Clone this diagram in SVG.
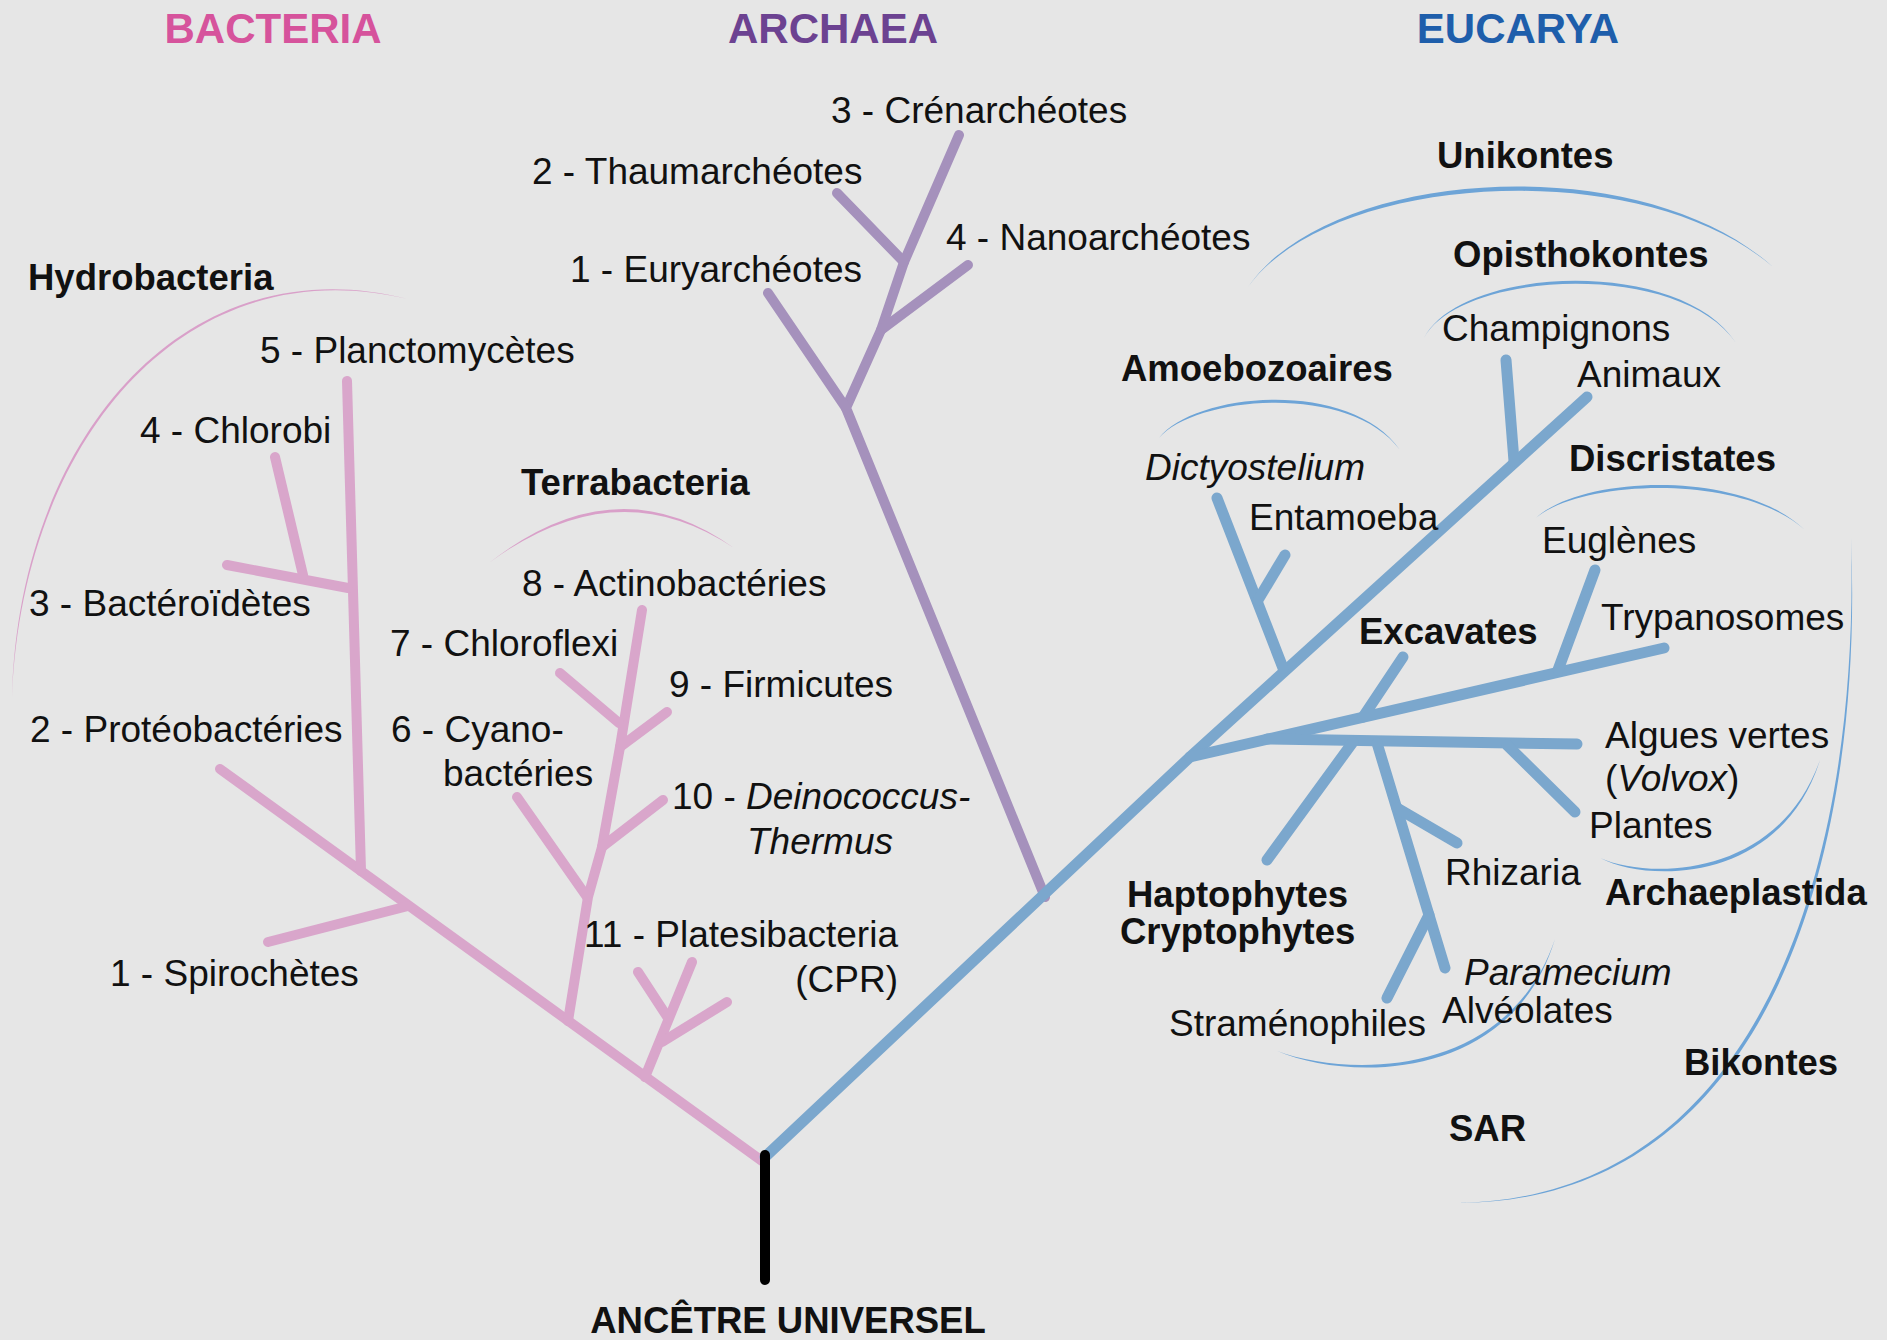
<svg xmlns="http://www.w3.org/2000/svg" width="1887" height="1340" viewBox="0 0 1887 1340">
<style>
.t{font-family:"Liberation Sans",Arial,Helvetica,sans-serif;font-size:37px;fill:#111}
.b{font-weight:bold;font-size:36.5px}
.i{font-style:italic}
.ti{font-family:"Liberation Sans",Arial,Helvetica,sans-serif;font-size:42px;font-weight:bold;text-anchor:middle}
.pk{fill:none;stroke:#d9a6cb;stroke-width:10;stroke-linecap:round;stroke-linejoin:round}
.pu{fill:none;stroke:#a591bc;stroke-width:10;stroke-linecap:round;stroke-linejoin:round}
.bl{fill:none;stroke:#7ba7cd;stroke-width:11;stroke-linecap:round;stroke-linejoin:round}
.root{fill:none;stroke:#000;stroke-width:10;stroke-linecap:round}
.apk{fill:#d9a0c9;stroke:none}
.abl{fill:#6da4d7;stroke:none}
</style>
<rect x="0" y="0" width="1887" height="1340" fill="#e6e6e6"/>

<g id="titles">
<text class="ti" x="273" y="43" fill="#d6539c">BACTERIA</text>
<text class="ti" x="833" y="43" fill="#6c4291">ARCHAEA</text>
<text class="ti" x="1518" y="43" fill="#1e5eab">EUCARYA</text>
</g>

<g id="clade-arcs">
<path class="apk" d="M12 697 C18 440 185 242 408 299 C185 246 22 440 12 697 Z"/>
<path class="apk" d="M489 563 Q616 463 734 548 Q616 469 489 563 Z"/>
<path class="abl" d="M1248 287 C1330 167 1640 147 1773 267 C1640 153 1330 173 1248 287 Z"/>
<path class="abl" d="M1424 338 C1460 266 1680 256 1736 343 C1680 260 1460 270 1424 338 Z"/>
<path class="abl" d="M1159 438 C1195 392 1350 378 1400 450 C1350 382 1195 396 1159 438 Z"/>
<path class="abl" d="M1536 518 C1580 476 1740 468 1805 530 C1740 472 1580 480 1536 518 Z"/>
<path class="abl" d="M1851 538 C1864 850 1772 1202 1458 1203 C1768 1198 1860 850 1851 538 Z"/>
<path class="abl" d="M1600 858 C1650 884 1782 882 1820 760 C1778 878 1650 880 1600 858 Z"/>
<path class="abl" d="M1277 1051 C1350 1082 1512 1082 1555 939 C1508 1078 1350 1078 1277 1051 Z"/>
</g>

<g id="connectors">
<path class="pk" d="M762 1161 L220 769"/>
<path class="pk" d="M408 906 L268 942"/>
<path class="pk" d="M361 871 L347 381"/>
<path class="pk" d="M348 588 L227 565"/>
<path class="pk" d="M303 575 L275 457"/>
<path class="pk" d="M568 1021 L588 897 L602 847 L620 747 L642 610"/>
<path class="pk" d="M560 673 L619 723"/>
<path class="pk" d="M620 747 L667 712"/>
<path class="pk" d="M602 847 L663 800"/>
<path class="pk" d="M517 797 L587 897"/>
<path class="pk" d="M645 1077 L692 962"/>
<path class="pk" d="M638 972 L668 1018"/>
<path class="pk" d="M662 1042 L727 1002"/>

<path class="pu" d="M1045 897 L846 408 L881 330 L904 262 L959 135"/>
<path class="pu" d="M846 408 L768 293"/>
<path class="pu" d="M881 330 L968 265"/>
<path class="pu" d="M904 262 L837 193"/>

<path class="bl" d="M765 1157 L1190 757 L1587 397"/>
<path class="bl" d="M1514 461 L1506 360"/>
<path class="bl" d="M1283 668 L1217 498"/>
<path class="bl" d="M1258 600 L1285 555"/>
<path class="bl" d="M1190 757 L1664 648"/>
<path class="bl" d="M1558 670 L1595 570"/>
<path class="bl" d="M1363 717 L1403 657"/>
<path class="bl" d="M1267 739 L1577 744"/>
<path class="bl" d="M1353 742 L1267 860"/>
<path class="bl" d="M1377 743 L1445 968"/>
<path class="bl" d="M1397 808 L1457 843"/>
<path class="bl" d="M1429 915 L1387 998"/>
<path class="bl" d="M1507 745 L1575 812"/>

<path class="root" d="M765 1155 L765 1280"/>
</g>

<g id="n-hydrobacteria"><text class="t b" x="28" y="290">Hydrobacteria</text></g>
<g id="n-planctomycetes"><text class="t" x="260" y="363">5 - Planctomycètes</text></g>
<g id="n-chlorobi"><text class="t" x="140" y="443">4 - Chlorobi</text></g>
<g id="n-bacteroidetes"><text class="t" x="29" y="616">3 - Bactéroïdètes</text></g>
<g id="n-proteobacteries"><text class="t" x="30" y="742">2 - Protéobactéries</text></g>
<g id="n-spirochetes"><text class="t" x="110" y="986">1 - Spirochètes</text></g>
<g id="n-terrabacteria"><text class="t b" x="521" y="495">Terrabacteria</text></g>
<g id="n-actinobacteries"><text class="t" x="522" y="596">8 - Actinobactéries</text></g>
<g id="n-chloroflexi"><text class="t" x="390" y="656">7 - Chloroflexi</text></g>
<g id="n-firmicutes"><text class="t" x="669" y="697">9 - Firmicutes</text></g>
<g id="n-cyanobacteries"><text class="t" x="391" y="742">6 - Cyano-</text><text class="t" x="443" y="786">bactéries</text></g>
<g id="n-deinococcus"><text class="t" x="672" y="809">10 - <tspan class="i">Deinococcus-</tspan></text><text class="t i" x="747" y="854">Thermus</text></g>
<g id="n-platesibacteria"><text class="t" x="898" y="947" text-anchor="end">11 - Platesibacteria</text><text class="t" x="898" y="992" text-anchor="end">(CPR)</text></g>

<g id="n-crenarcheotes"><text class="t" x="831" y="123">3 - Crénarchéotes</text></g>
<g id="n-thaumarcheotes"><text class="t" x="532" y="184">2 - Thaumarchéotes</text></g>
<g id="n-nanoarcheotes"><text class="t" x="946" y="250">4 - Nanoarchéotes</text></g>
<g id="n-euryarcheotes"><text class="t" x="570" y="282">1 - Euryarchéotes</text></g>

<g id="n-unikontes"><text class="t b" x="1437" y="168">Unikontes</text></g>
<g id="n-opisthokontes"><text class="t b" x="1453" y="267">Opisthokontes</text></g>
<g id="n-champignons"><text class="t" x="1442" y="341">Champignons</text></g>
<g id="n-animaux"><text class="t" x="1577" y="387">Animaux</text></g>
<g id="n-amoebozoaires"><text class="t b" x="1121" y="381">Amoebozoaires</text></g>
<g id="n-dictyostelium"><text class="t i" x="1145" y="480">Dictyostelium</text></g>
<g id="n-entamoeba"><text class="t" x="1249" y="530">Entamoeba</text></g>
<g id="n-discristates"><text class="t b" x="1569" y="471">Discristates</text></g>
<g id="n-euglenes"><text class="t" x="1542" y="553">Euglènes</text></g>
<g id="n-trypanosomes"><text class="t" x="1601" y="630">Trypanosomes</text></g>
<g id="n-excavates"><text class="t b" x="1359" y="644">Excavates</text></g>
<g id="n-algues"><text class="t" x="1605" y="748">Algues vertes</text><text class="t" x="1605" y="791">(<tspan class="i">Volvox</tspan>)</text></g>
<g id="n-plantes"><text class="t" x="1589" y="838">Plantes</text></g>
<g id="n-rhizaria"><text class="t" x="1445" y="885">Rhizaria</text></g>
<g id="n-archaeplastida"><text class="t b" x="1605" y="905">Archaeplastida</text></g>
<g id="n-haptophytes"><text class="t b" x="1127" y="907">Haptophytes</text><text class="t b" x="1120" y="944">Cryptophytes</text></g>
<g id="n-paramecium"><text class="t i" x="1464" y="985">Paramecium</text></g>
<g id="n-alveolates"><text class="t" x="1442" y="1023">Alvéolates</text></g>
<g id="n-stramenophiles"><text class="t" x="1169" y="1036">Straménophiles</text></g>
<g id="n-bikontes"><text class="t b" x="1684" y="1075">Bikontes</text></g>
<g id="n-sar"><text class="t b" x="1449" y="1141">SAR</text></g>

<g id="n-ancetre"><text class="t b" x="788" y="1333" text-anchor="middle">ANCÊTRE UNIVERSEL</text></g>
</svg>
